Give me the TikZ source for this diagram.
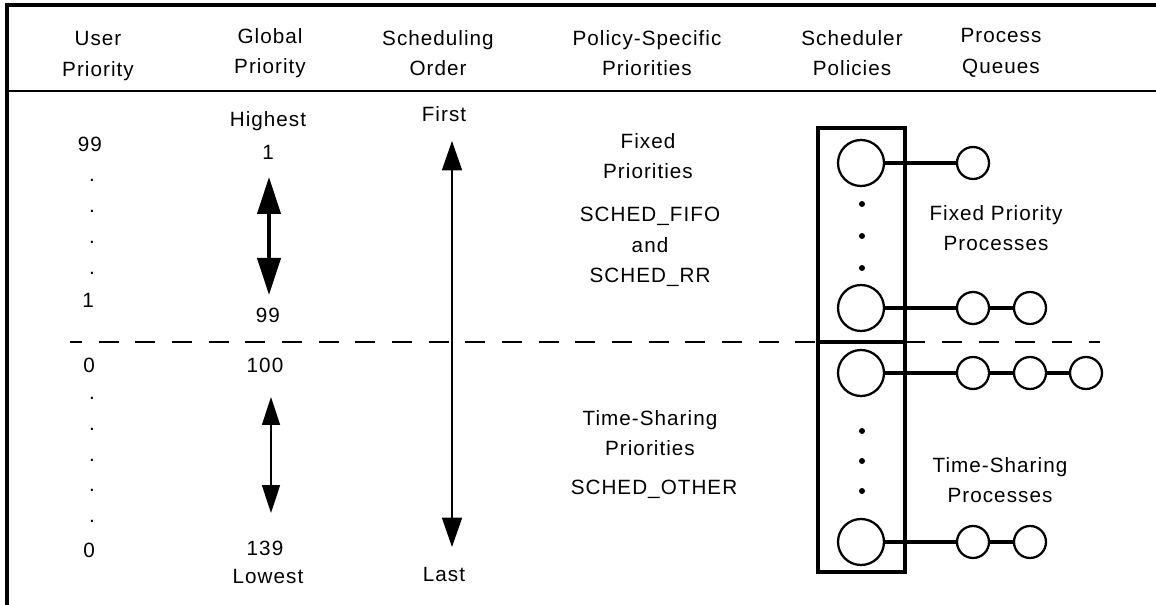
\documentclass[tikz,border=0pt]{standalone}
\usepackage{fontspec}
\setmainfont{Liberation Sans}[LetterSpace=5]
\usetikzlibrary{arrows.meta}
\begin{document}
\begin{tikzpicture}[x=0.75pt,y=-0.75pt,
  txt/.style={font=\fontsize{15.5}{23}\selectfont, inner sep=0pt, align=center},
  dotlbl/.style={font=\fontsize{15.5}{23}\selectfont, inner sep=0pt},
  frameline/.style={line width=2.6pt},
  bigc/.style={draw, circle, line width=1.7pt, minimum size=34.5pt, inner sep=0pt},
  smallc/.style={draw, circle, line width=1.7pt, minimum size=24pt, inner sep=0pt},
  conn/.style={line width=2.4pt},
  polbox/.style={draw, line width=2.6pt},
  bdot/.style={fill, circle, minimum size=4.5pt, inner sep=0pt},
  thickarrow/.style={line width=3.2pt, {Triangle[length=27.75pt,width=17.25pt]}-{Triangle[length=27.75pt,width=17.25pt]}},
  thinarrow/.style={line width=1.2pt, {Triangle[length=21pt,width=13.5pt]}-{Triangle[length=21pt,width=13.5pt]}},
  orderarrow/.style={line width=1.2pt, {Triangle[length=22pt,width=15pt]}-{Triangle[length=22pt,width=15pt]}}
]
\useasboundingbox (0,0) rectangle (1156,605);
% frame
\coordinate (fTL) at (7,5);
\coordinate (fTR) at (1160,5);
\coordinate (fBL) at (7,610);
\draw[frameline] (fTR) -- (fTL) -- (fBL);
\coordinate (hL) at (7,91);
\coordinate (hR) at (1160,91);
\draw[line width=1.3pt] (hL) -- (hR);
% headers
\node[txt] (h1) at (98,56) {User\\Priority};
\node[txt] (h2) at (270,53) {Global\\Priority};
\node[txt] (h3) at (438,53) {Scheduling\\Order};
\node[txt] (h4) at (647,53) {Policy-Specific\\Priorities};
\node[txt] (h5) at (852,53) {Scheduler\\Policies};
\node[txt] (h6) at (1001,53) {Process\\Queues};
% dashed separator
\coordinate (dL) at (70,342);
\coordinate (dR) at (1100,342);
\draw[line width=1pt, dash pattern=on 15pt off 12.5pt, dash phase=6pt] (dL) -- (dR);
% user priority column
\node[txt] (u99) at (90,144) {99};
\node[dotlbl] (ud1) at (92,180) {.};
\node[dotlbl] (ud2) at (92,211) {.};
\node[dotlbl] (ud3) at (92,242) {.};
\node[dotlbl] (ud4) at (92,273) {.};
\node[txt] (u1) at (88,300) {1};
\node[txt] (u0a) at (89,365) {0};
\node[dotlbl] (ud5) at (92,398) {.};
\node[dotlbl] (ud6) at (92,429) {.};
\node[dotlbl] (ud7) at (92,460) {.};
\node[dotlbl] (ud8) at (92,490) {.};
\node[dotlbl] (ud9) at (92,521) {.};
\node[txt] (u0b) at (89,550) {0};
% global priority column
\node[txt] (gh) at (268,121) {Highest};
\node[txt] (g1) at (268,152) {1};
\coordinate (gat) at (269,177);
\coordinate (gab) at (269,295);
\draw[thickarrow] (gat) -- (gab);
\node[txt] (g99) at (268,315) {99};
\node[txt] (g100) at (265,365) {100};
\coordinate (gbt) at (271,397);
\coordinate (gbb) at (271,513);
\draw[thinarrow] (gbt) -- (gbb);
\node[txt] (g139) at (265,548) {139};
\node[txt] (glow) at (268,576) {Lowest};
% scheduling order
\node[txt] (first) at (444,114) {First};
\coordinate (sot) at (452,141);
\coordinate (sob) at (452,547);
\draw[orderarrow] (sot) -- (sob);
\node[txt] (last) at (444,574) {Last};
% policy-specific priorities
\node[txt] (fp) at (648,156) {Fixed\\Priorities};
\node[txt] (fifo) at (650,247) {SCHED\_FIFO\\and\\SCHED\_RR};
\node[txt] (tsp) at (650,433) {Time-Sharing\\Priorities};
\node[txt] (other) at (654,489) {SCHED\_OTHER};
% scheduler policy boxes
\draw[polbox] (818,128) rectangle (905,342);
\draw[polbox] (818,342) rectangle (905,572);
\node[bigc] (b1) at (861,163) {};
\node[bigc] (b2) at (861,308) {};
\node[bigc] (b3) at (861,373) {};
\node[bigc] (b4) at (861,542) {};
\node[bdot] (bd1) at (862,204) {};
\node[bdot] (bd2) at (862,236) {};
\node[bdot] (bd3) at (862,268) {};
\node[bdot] (bd4) at (862,431) {};
\node[bdot] (bd5) at (862,461) {};
\node[bdot] (bd6) at (862,491) {};
% process queues
\node[smallc] (q11) at (973,163) {};
\node[smallc] (q21) at (973,308) {};
\node[smallc] (q22) at (1030,308) {};
\node[smallc] (q31) at (973,373) {};
\node[smallc] (q32) at (1030,373) {};
\node[smallc] (q33) at (1086,373) {};
\node[smallc] (q41) at (973,542) {};
\node[smallc] (q42) at (1030,542) {};
\draw[conn] (b1) -- (q11);
\draw[conn] (b2) -- (q21);
\draw[conn] (q21) -- (q22);
\draw[conn] (b3) -- (q31);
\draw[conn] (q31) -- (q32);
\draw[conn] (q32) -- (q33);
\draw[conn] (b4) -- (q41);
\draw[conn] (q41) -- (q42);
\node[txt] (fpp) at (996,228) {Fixed Priority\\Processes};
\node[txt] (tsproc) at (1000,480) {Time-Sharing\\Processes};
\end{tikzpicture}
\end{document}
